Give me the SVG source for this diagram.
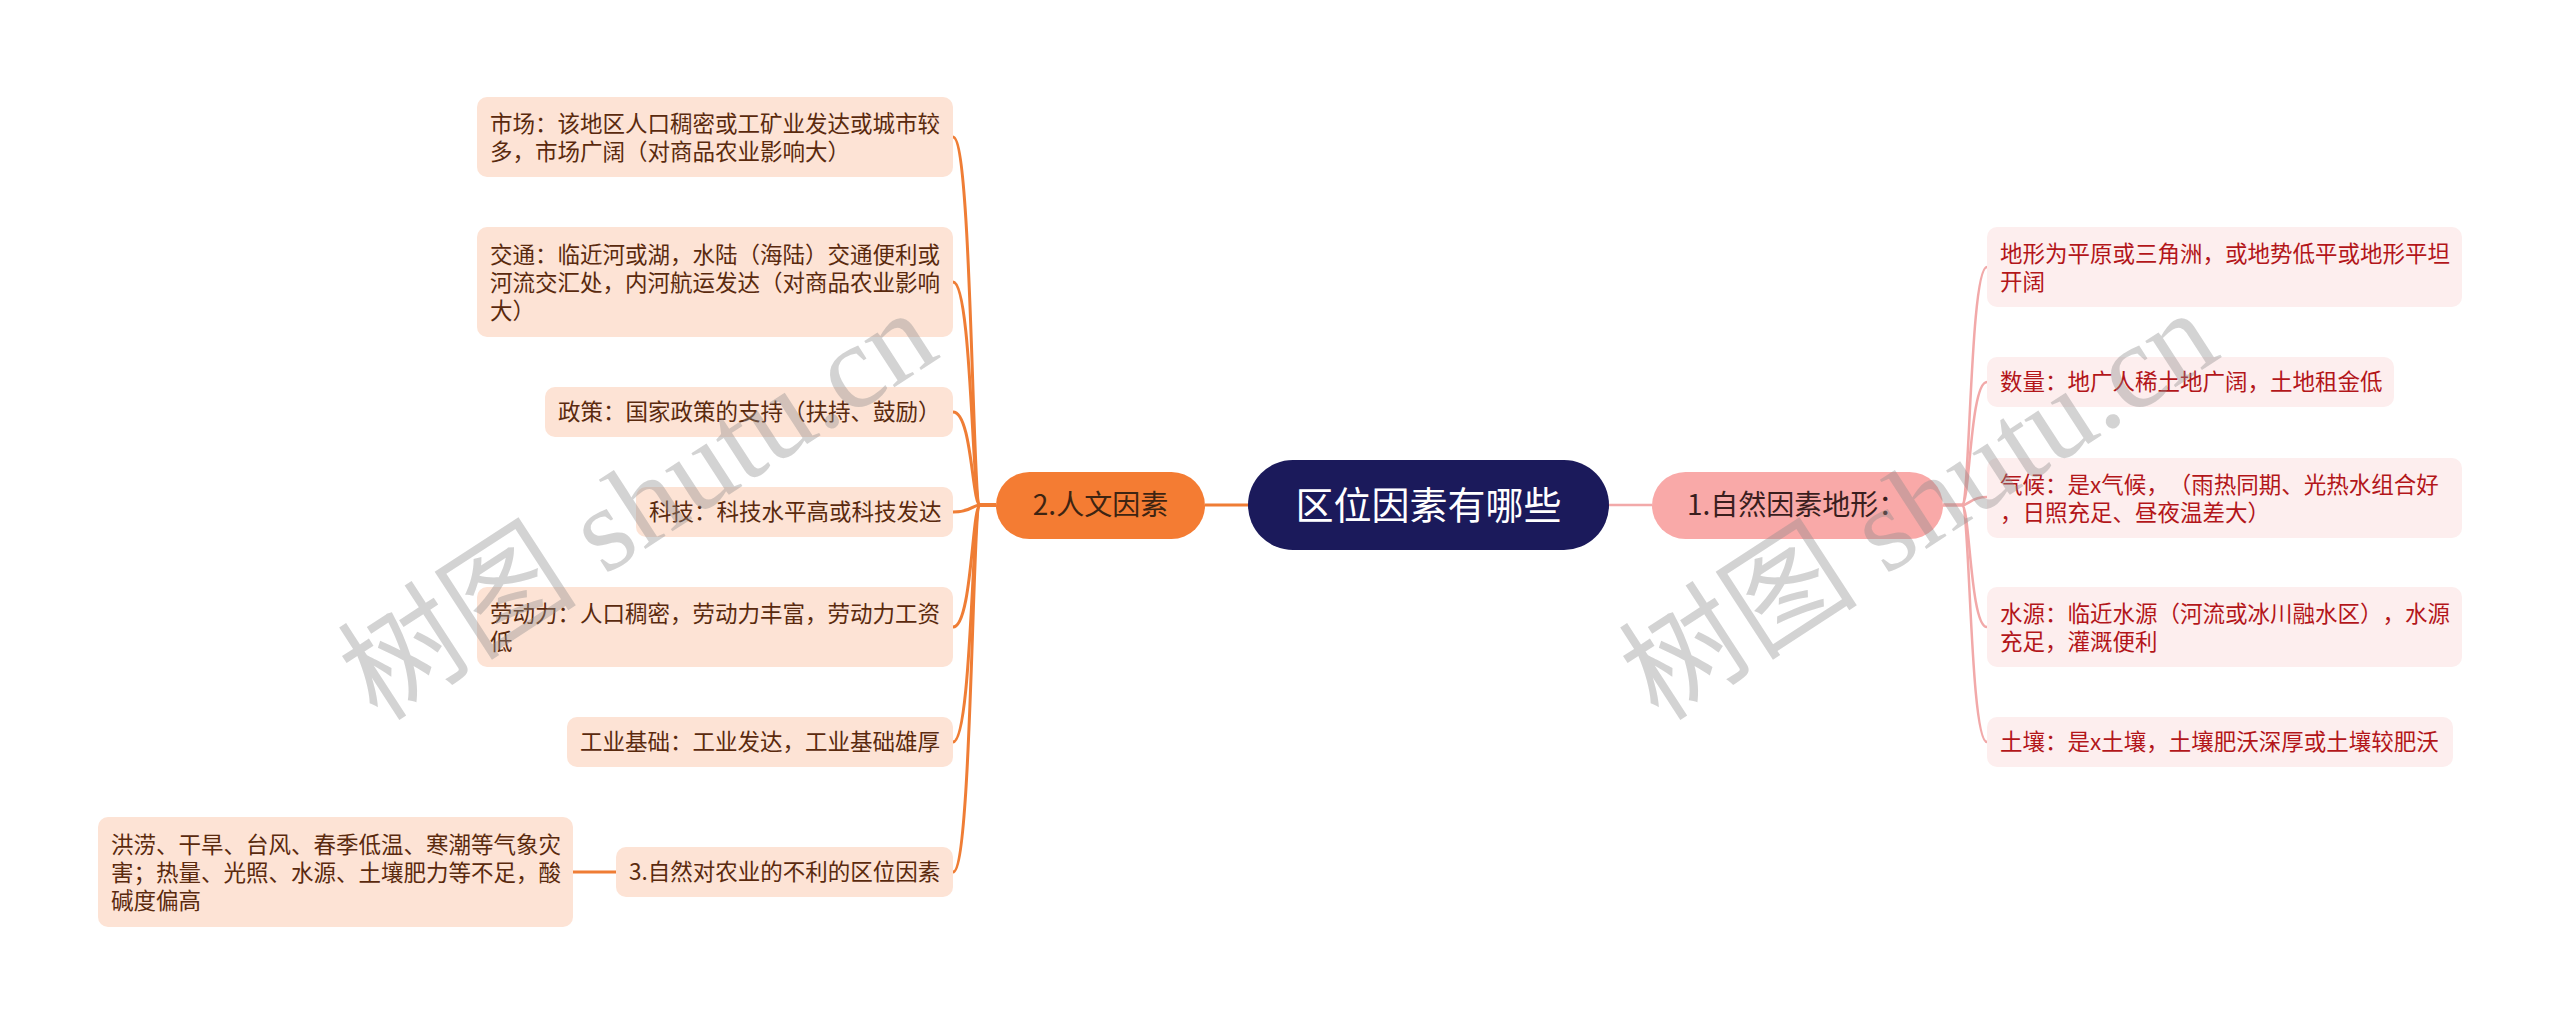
<svg xmlns="http://www.w3.org/2000/svg" width="2560" height="1024" viewBox="0 0 2560 1024">
<style>
text{font-family:"Noto Sans CJK SC","Noto Sans",sans-serif;text-spacing-trim:space-all;}
.lb{fill:#fde3d5;}
.lt{font-size:22.5px;fill:#5a2a0e;}
.rb{fill:#fdeeee;}
.rt{font-size:22.5px;fill:#b3161a;}
.lc{fill:none;stroke:#ef7d35;stroke-width:3;}
.rc{fill:none;stroke:#f2a9a9;stroke-width:2.5;}
.wm{font-family:"Liberation Serif","Noto Sans CJK SC",serif;font-size:120px;fill:#8c8c8c;fill-opacity:0.38;}
</style>
<rect width="2560" height="1024" fill="#ffffff"/>
<g id="connectors">
<path class="lc" d="M1205 505H1248"/>
<path class="lc" d="M996 505H980C972 505 972 137 953 137"/>
<path class="lc" d="M996 505H980C972 505 972 282 953 282"/>
<path class="lc" d="M996 505H980C972 505 972 412 953 412"/>
<path class="lc" d="M996 505H980C972 505 972 512 953 512"/>
<path class="lc" d="M996 505H980C972 505 972 627 953 627"/>
<path class="lc" d="M996 505H980C972 505 972 742 953 742"/>
<path class="lc" d="M996 505H980C972 505 972 872 953 872"/>
<path class="lc" d="M616 872H573"/>
<path class="rc" d="M1609 505H1652"/>
<path class="rc" d="M1943 505H1962C1970 505 1970 267 1987 267"/>
<path class="rc" d="M1943 505H1962C1970 505 1970 382 1987 382"/>
<path class="rc" d="M1943 505H1962C1970 505 1970 497 1987 497"/>
<path class="rc" d="M1943 505H1962C1970 505 1970 627 1987 627"/>
<path class="rc" d="M1943 505H1962C1970 505 1970 742 1987 742"/>
</g>
<g id="root">
<rect x="1248" y="460" width="361" height="90" rx="45" fill="#1b1a5b"/>
<text x="1428.5" y="519" font-size="38" fill="#ffffff" text-anchor="middle">区位因素有哪些</text>
</g>
<g id="n2">
<rect x="996" y="472" width="209" height="67" rx="33.5" fill="#f47c33"/>
<text x="1100.5" y="515" font-size="28" fill="#3d2412" text-anchor="middle">2.人文因素</text>
</g>
<g id="n1">
<rect x="1652" y="472" width="291" height="67" rx="33.5" fill="#f9a9a8"/>
<text x="1687" y="515" font-size="28" fill="#3a1e1e">1.自然因素地形：</text>
</g>
<g id="market">
<rect class="lb" x="477" y="97" width="476" height="80" rx="10"/>
<text class="lt" x="490" y="132">市场：该地区人口稠密或工矿业发达或城市较</text>
<text class="lt" x="490" y="160">多，市场广阔（对商品农业影响大）</text>
</g>
<g id="traffic">
<rect class="lb" x="477" y="227" width="476" height="110" rx="10"/>
<text class="lt" x="490" y="263">交通：临近河或湖，水陆（海陆）交通便利或</text>
<text class="lt" x="490" y="291">河流交汇处，内河航运发达（对商品农业影响</text>
<text class="lt" x="490" y="319">大）</text>
</g>
<g id="policy">
<rect class="lb" x="545" y="387" width="408" height="50" rx="10"/>
<text class="lt" x="558" y="420">政策：国家政策的支持（扶持、鼓励）</text>
</g>
<g id="tech">
<rect class="lb" x="636" y="487" width="317" height="50" rx="10"/>
<text class="lt" x="649" y="520">科技：科技水平高或科技发达</text>
</g>
<g id="labor">
<rect class="lb" x="477" y="587" width="476" height="80" rx="10"/>
<text class="lt" x="490" y="622">劳动力：人口稠密，劳动力丰富，劳动力工资</text>
<text class="lt" x="490" y="650">低</text>
</g>
<g id="industry">
<rect class="lb" x="567" y="717" width="386" height="50" rx="10"/>
<text class="lt" x="580" y="750">工业基础：工业发达，工业基础雄厚</text>
</g>
<g id="item3">
<rect class="lb" x="616" y="847" width="337" height="50" rx="10"/>
<text class="lt" x="629" y="880">3.自然对农业的不利的区位因素</text>
</g>
<g id="disaster">
<rect class="lb" x="98" y="817" width="475" height="110" rx="10"/>
<text class="lt" x="111" y="853">洪涝、干旱、台风、春季低温、寒潮等气象灾</text>
<text class="lt" x="111" y="881">害；热量、光照、水源、土壤肥力等不足，酸</text>
<text class="lt" x="111" y="909">碱度偏高</text>
</g>
<g id="terrain">
<rect class="rb" x="1987" y="227" width="475" height="80" rx="10"/>
<text class="rt" x="2000" y="262">地形为平原或三角洲，或地势低平或地形平坦</text>
<text class="rt" x="2000" y="290">开阔</text>
</g>
<g id="quantity">
<rect class="rb" x="1987" y="357" width="407" height="50" rx="10"/>
<text class="rt" x="2000" y="390">数量：地广人稀土地广阔，土地租金低</text>
</g>
<g id="climate">
<rect class="rb" x="1987" y="458" width="475" height="80" rx="10"/>
<text class="rt" x="2000" y="493">气候：是x气候，（雨热同期、光热水组合好</text>
<text class="rt" x="2000" y="521">，日照充足、昼夜温差大）</text>
</g>
<g id="water">
<rect class="rb" x="1987" y="587" width="475" height="80" rx="10"/>
<text class="rt" x="2000" y="622">水源：临近水源（河流或冰川融水区），水源</text>
<text class="rt" x="2000" y="650">充足，灌溉便利</text>
</g>
<g id="soil">
<rect class="rb" x="1987" y="717" width="466" height="50" rx="10"/>
<text class="rt" x="2000" y="750">土壤：是x土壤，土壤肥沃深厚或土壤较肥沃</text>
</g>
<g id="watermark">
<text class="wm" x="641" y="545" text-anchor="middle" transform="rotate(-33 641 510)">树图 shutu.cn</text>
<text class="wm" x="1922" y="545" text-anchor="middle" transform="rotate(-33 1922 510)">树图 shutu.cn</text>
</g>
</svg>
